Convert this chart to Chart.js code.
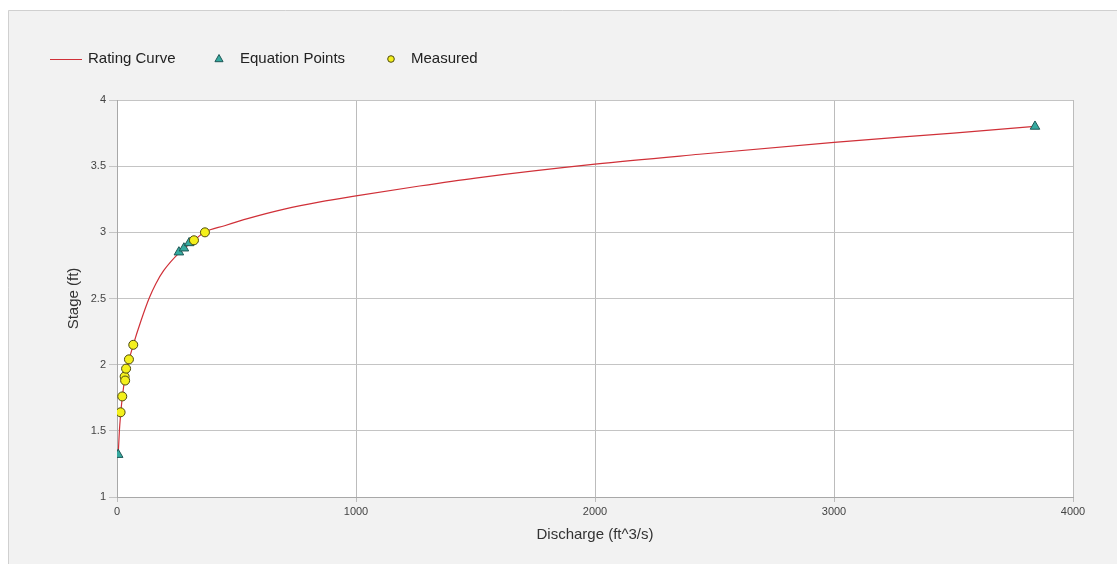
<!DOCTYPE html>
<html>
<head>
<meta charset="utf-8">
<script src="https://cdn.jsdelivr.net/npm/chart.js@4"></script>
<style>
html,body{margin:0;padding:0;background:#fff;}
#wrap{position:absolute;left:0;top:0;width:1117px;height:564px;}
</style>
</head>
<body>
<div id="wrap"><canvas id="c" width="1117" height="564"></canvas></div>
<script>
// Rating curve
const curveQ     = [5, 10, 15, 22, 35, 48, 68, 100, 134, 162, 195, 260, 320, 366, 450, 550, 700, 850, 1000, 1266, 1500, 2000, 2437, 3000, 3500, 3840];
const curveStage = [1.32, 1.50, 1.62, 1.75, 1.92, 2.02, 2.15, 2.33, 2.50, 2.61, 2.71, 2.845, 2.935, 3.00, 3.05, 3.105, 3.175, 3.23, 3.275, 3.35, 3.41, 3.515, 3.59, 3.68, 3.75, 3.80];
// Equation points
const eqQ     = [5, 259, 280, 302, 3841];
const eqStage = [1.32, 2.85, 2.88, 2.92, 3.80];
// Measured
const measQ     = [15, 22, 32, 34, 38, 50, 68, 322, 368];
const measStage = [1.64, 1.76, 1.91, 1.88, 1.97, 2.04, 2.15, 2.94, 3.00];
// Axis ticks
const xTicks = [0, 1000, 2000, 3000, 4000];
const yTicks = [1, 1.5, 2, 2.5, 3, 3.5, 4];
const seriesNames = ['Rating Curve', 'Equation Points', 'Measured'];

const toPts = (xs, ys) => xs.map((x, i) => ({x: x, y: ys[i]}));

const FONT = '"Liberation Sans", Arial, sans-serif';
const LINE_COLOR = 'rgb(208,48,56)';
const TRI_FILL = '#36aaa0', TRI_STROKE = '#1f5755';
const CIR_FILL = '#f4f01c', CIR_STROKE = '#4e4a10';

const framePlugin = {
  id: 'frame',
  beforeDraw(chart) {
    const ctx = chart.ctx, a = chart.chartArea;
    ctx.save();
    ctx.fillStyle = '#ffffff';
    ctx.fillRect(0, 0, chart.width, chart.height);
    ctx.fillStyle = '#f2f2f2';
    ctx.fillRect(8, 10, chart.width, chart.height);
    ctx.strokeStyle = '#d0d0d0';
    ctx.lineWidth = 1;
    ctx.beginPath();
    ctx.moveTo(8.5, chart.height);
    ctx.lineTo(8.5, 10.5);
    ctx.lineTo(chart.width, 10.5);
    ctx.stroke();
    ctx.fillStyle = '#ffffff';
    ctx.fillRect(a.left, a.top, a.right - a.left, a.bottom - a.top);
    ctx.restore();
  },
  afterDraw(chart) {
    const ctx = chart.ctx;
    const y = 59;
    ctx.save();
    ctx.font = '15px ' + FONT;
    ctx.fillStyle = '#222';
    ctx.textBaseline = 'middle';
    ctx.textAlign = 'left';
    // line sample
    ctx.strokeStyle = LINE_COLOR;
    ctx.lineWidth = 1;
    ctx.beginPath();
    ctx.moveTo(50, y + 0.5);
    ctx.lineTo(82, y + 0.5);
    ctx.stroke();
    ctx.fillText(seriesNames[0], 88, y);
    // triangle
    const tx = 219, r = 4.5;
    ctx.beginPath();
    ctx.moveTo(tx, y - r);
    ctx.lineTo(tx + r * 0.9, y + r * 0.6);
    ctx.lineTo(tx - r * 0.9, y + r * 0.6);
    ctx.closePath();
    ctx.fillStyle = TRI_FILL;
    ctx.fill();
    ctx.strokeStyle = TRI_STROKE;
    ctx.stroke();
    ctx.fillStyle = '#222';
    ctx.fillText(seriesNames[1], 240, y);
    // circle
    ctx.beginPath();
    ctx.arc(391, y, 3.3, 0, Math.PI * 2);
    ctx.fillStyle = CIR_FILL;
    ctx.fill();
    ctx.strokeStyle = CIR_STROKE;
    ctx.stroke();
    ctx.fillStyle = '#222';
    ctx.fillText(seriesNames[2], 411, y);
    ctx.restore();
  }
};

new Chart(document.getElementById('c'), {
  type: 'scatter',
  data: {
    datasets: [
      {
        label: seriesNames[0],
        data: toPts(curveQ, curveStage),
        showLine: true,
        borderColor: LINE_COLOR,
        borderWidth: 1.2,
        pointRadius: 0,
        cubicInterpolationMode: 'monotone',
        order: 3
      },
      {
        label: seriesNames[1],
        data: toPts(eqQ, eqStage),
        pointStyle: 'triangle',
        pointRadius: 5.5,
        backgroundColor: TRI_FILL,
        borderColor: TRI_STROKE,
        borderWidth: 1,
        order: 2
      },
      {
        label: seriesNames[2],
        data: toPts(measQ, measStage),
        pointStyle: 'circle',
        pointRadius: 4.5,
        backgroundColor: CIR_FILL,
        borderColor: CIR_STROKE,
        borderWidth: 1,
        order: 1
      }
    ]
  },
  options: {
    responsive: false,
    animation: false,
    devicePixelRatio: 1,
    layout: { padding: { left: 0, right: 44, top: 100, bottom: 0 } },
    plugins: { legend: { display: false }, tooltip: { enabled: false } },
    scales: {
      x: {
        type: 'linear',
        min: xTicks[0], max: xTicks[xTicks.length - 1],
        afterBuildTicks: s => { s.ticks = xTicks.map(v => ({value: v})); },
        afterFit: s => { s.height = 67; },
        ticks: { color: '#444', font: { family: FONT, size: 11 }, padding: 3, maxRotation: 0,
                 callback: v => String(v) },
        grid: { color: '#bcbcbc', tickLength: 5, tickColor: '#bcbcbc' },
        border: { color: '#a8a8a8' },
        title: { display: true, text: 'Discharge (ft^3/s)', color: '#333',
                 font: { family: FONT, size: 15 },
                 padding: { top: 0, bottom: 20 } }
      },
      y: {
        type: 'linear',
        min: yTicks[0], max: yTicks[yTicks.length - 1],
        afterBuildTicks: s => { s.ticks = yTicks.map(v => ({value: v})); },
        afterFit: s => { s.width = 117; },
        ticks: { color: '#444', font: { family: FONT, size: 11 }, padding: 3,
                 callback: v => String(v) },
        grid: { color: '#c4c4c4', tickLength: 8, tickColor: '#c4c4c4' },
        border: { color: '#a8a8a8' },
        title: { display: true, text: 'Stage (ft)', color: '#333',
                 font: { family: FONT, size: 15 },
                 padding: { top: 65, bottom: 0 } }
      }
    }
  },
  plugins: [framePlugin]
});
</script>
</body>
</html>
